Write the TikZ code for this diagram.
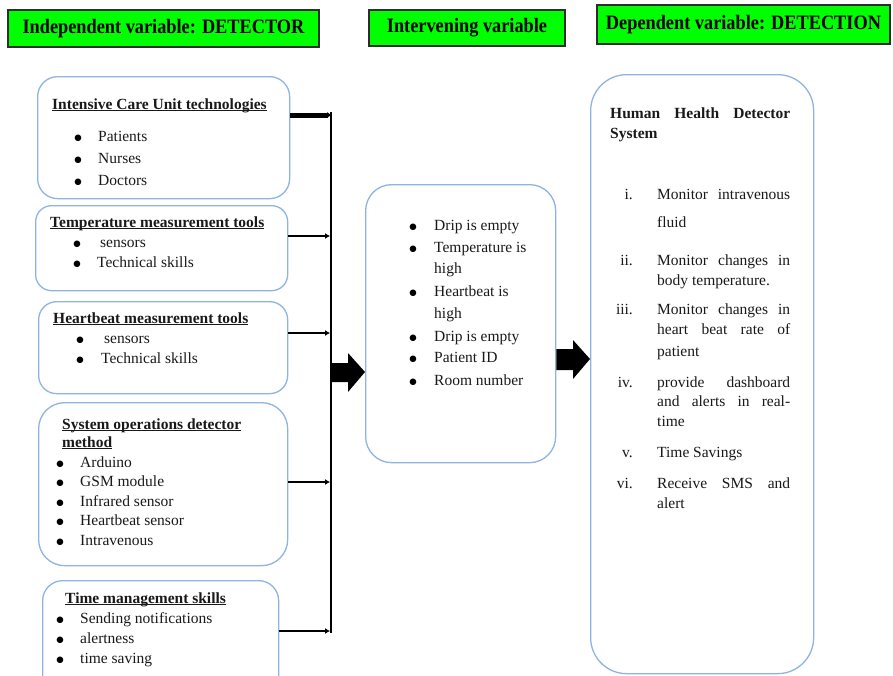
\documentclass[tikz,border=0pt]{standalone}
\usepackage{fontspec}
\setmainfont{Liberation Serif}
\newfontfamily\dotfont{DejaVu Sans}
\usetikzlibrary{arrows.meta}
\definecolor{boxblue}{RGB}{141,180,226}
\definecolor{hdrgreen}{RGB}{0,255,0}
\definecolor{hdrline}{RGB}{45,45,45}
\definecolor{txtcol}{RGB}{25,25,25}
\newcommand{\ttl}[1]{\underline{\smash{\textbf{#1}}}}
\newcommand{\jus}[2]{\makebox[#1][s]{#2}}
\newcommand{\bigbul}{\smash{\raisebox{1.2pt}{\dotfont\fontsize{8.5}{9}\selectfont ●}}}
\begin{document}
\begin{tikzpicture}[x=1pt,y=-1pt,
  rbox/.style={draw=boxblue, line width=1.3pt, rounded corners=#1, inner sep=0, anchor=north west},
  hdr/.style={draw=hdrline, fill=hdrgreen, line width=1.6pt, inner sep=0,
     font=\fontsize{18.3}{20}\selectfont\bfseries},
  txt/.style={font=\fontsize{15.5}{19}\selectfont, text=txtcol, inner sep=0, text height=11pt, text depth=3pt, anchor=west},
  bul/.style={text=black, inner sep=0, text height=9pt, text depth=0pt, anchor=center},
  num/.style={font=\fontsize{15.5}{19}\selectfont, text=txtcol, inner sep=0, text height=11pt, text depth=3pt, anchor=east},
  link/.style={draw=black, line width=2.5pt, -{Latex[length=5pt,width=6pt]}},
]
\clip (0,0) rectangle (893,675);
\fill[white] (0,0) rectangle (893,675);

% headers
\node[hdr, minimum width=311pt, minimum height=37pt] (h1) at (163.5,28.5) {\scalebox{1}[1.12]{Independent variable: DETECTOR}};
\node[hdr, minimum width=196pt, minimum height=36pt] (h2) at (467,28) {\scalebox{1}[1.12]{Intervening variable}};
\node[hdr, minimum width=293pt, minimum height=39pt] (h3) at (743.5,24.5) {\scalebox{1}[1.12]{Dependent variable: DETECTION}};

% left boxes
\node[rbox=20pt, minimum width=252pt, minimum height=122pt] (icu) at (37,76) {};
\node[rbox=16pt, minimum width=252pt, minimum height=85pt] (temp) at (35,205) {};
\node[rbox=18pt, minimum width=249pt, minimum height=92pt] (heart) at (38,301) {};
\node[rbox=26pt, minimum width=249pt, minimum height=163pt] (sys) at (38,402) {};
\node[rbox=20pt, minimum width=236pt, minimum height=115pt] (time) at (42,580) {};

% intervening and dependent boxes
\node[rbox=26pt, minimum width=190pt, minimum height=278pt] (inter) at (365,184) {};
\node[rbox=36pt, minimum width=223pt, minimum height=599pt] (dep) at (590,74) {};

% ICU text
\node[txt] (t1) at (52,105) {\ttl{Intensive Care Unit technologies}};
\node[bul] at (78,137) {\bigbul};
\node[txt] at (98,137) {Patients};
\node[bul] at (78,159) {\bigbul};
\node[txt] at (98,159) {Nurses};
\node[bul] at (78,181) {\bigbul};
\node[txt] at (98,181) {Doctors};

% Temperature
\node[txt] (t2) at (50,223) {\ttl{Temperature measurement tools}};
\node[bul] at (77,243) {\bigbul};
\node[txt] at (100,243) {sensors};
\node[bul] at (77,263) {\bigbul};
\node[txt] at (97,263) {Technical skills};

% Heartbeat
\node[txt] (t3) at (53,319) {\ttl{Heartbeat measurement tools}};
\node[bul] at (80,339) {\bigbul};
\node[txt] at (104,339) {sensors};
\node[bul] at (80,359) {\bigbul};
\node[txt] at (101,359) {Technical skills};

% System operations
\node[txt] (t4) at (62,425) {\ttl{System operations detector}};
\node[txt] (t4b) at (62,443) {\ttl{method}};
\node[bul] at (60,463) {\bigbul};
\node[txt] at (80,463) {Arduino};
\node[bul] at (60,482) {\bigbul};
\node[txt] at (80,482) {GSM module};
\node[bul] at (60,502) {\bigbul};
\node[txt] at (80,502) {Infrared sensor};
\node[bul] at (60,521) {\bigbul};
\node[txt] at (80,521) {Heartbeat sensor};
\node[bul] at (60,541) {\bigbul};
\node[txt] at (80,541) {Intravenous};

% Time management
\node[txt] (t5) at (65,599) {\ttl{Time management skills}};
\node[bul] at (60,619) {\bigbul};
\node[txt] at (80,619) {Sending notifications};
\node[bul] at (60,639) {\bigbul};
\node[txt] at (80,639) {alertness};
\node[bul] at (60,659) {\bigbul};
\node[txt] at (80,659) {time saving};

% Intervening text
\node[bul] at (413,226) {\bigbul};
\node[txt] at (434,226) {Drip is empty};
\node[bul] at (413,248) {\bigbul};
\node[txt] at (434,248) {Temperature is};
\node[txt] at (434,269) {high};
\node[bul] at (413,292) {\bigbul};
\node[txt] at (434,292) {Heartbeat is};
\node[txt] at (434,314) {high};
\node[bul] at (413,337) {\bigbul};
\node[txt] at (434,337) {Drip is empty};
\node[bul] at (413,358) {\bigbul};
\node[txt] at (434,358) {Patient ID};
\node[bul] at (413,381) {\bigbul};
\node[txt] at (434,381) {Room number};

% Dependent text
\node[txt] (dt) at (610,114) {\textbf{\jus{180pt}{Human Health Detector}}};
\node[txt] at (610,134) {\textbf{System}};
\node[num] at (633,195) {i.};
\node[txt] at (657,195) {\jus{133pt}{Monitor intravenous}};
\node[txt] at (657,223) {fluid};
\node[num] at (633,261) {ii.};
\node[txt] at (657,261) {\jus{133pt}{Monitor changes in}};
\node[txt] at (657,281) {body temperature.};
\node[num] at (633,310) {iii.};
\node[txt] at (657,310) {\jus{133pt}{Monitor changes in}};
\node[txt] at (657,330) {\jus{133pt}{heart beat rate of}};
\node[txt] at (657,352) {patient};
\node[num] at (633,383) {iv.};
\node[txt] at (657,383) {\jus{133pt}{provide dashboard}};
\node[txt] at (657,402) {\jus{133pt}{and alerts in real-}};
\node[txt] at (657,422) {time};
\node[num] at (633,453) {v.};
\node[txt] at (657,453) {Time Savings};
\node[num] at (633,484) {vi.};
\node[txt] at (657,484) {\jus{133pt}{Receive SMS and}};
\node[txt] at (657,504) {alert};

% bus and connectors
\coordinate (busTop) at (331,112);
\coordinate (busBot) at (331,633);
\coordinate (b1) at (332,115);
\coordinate (b2) at (330,236);
\coordinate (b3) at (330,333);
\coordinate (b4) at (330,482);
\coordinate (b5) at (330,631);
\draw[line width=2.5pt] (busTop) -- (busBot);
\draw[link, line width=5pt] (icu.east |- b1) -- (b1);
\draw[link] (temp.east |- b2) -- (b2);
\draw[link] (heart.east |- b3) -- (b3);
\draw[link] (sys.east |- b4) -- (b4);
\draw[link] (time.east |- b5) -- (b5);

% block arrows
\fill[black] (331,363) -- (348,363) -- (348,353) -- (inter.west |- 0,372) -- (348,392) -- (348,382) -- (331,382) -- cycle;
\fill[black] (inter.east |- 0,349) -- (573,349) -- (573,340) -- (dep.west |- 0,359) -- (573,379) -- (573,370) -- (inter.east |- 0,370) -- cycle;
\end{tikzpicture}
\end{document}
